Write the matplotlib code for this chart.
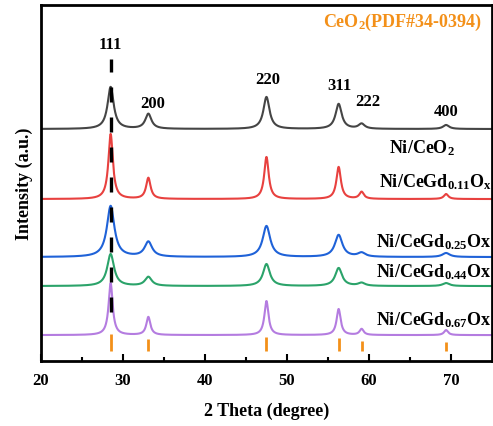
import numpy as np
import matplotlib.pyplot as plt

plt.rcParams["font.family"] = ["Liberation Serif", "DejaVu Serif"]
plt.rcParams["font.weight"] = "bold"
plt.rcParams["mathtext.fontset"] = "custom"
plt.rcParams["mathtext.rm"] = "Liberation Serif:bold"
plt.rcParams["mathtext.it"] = "Liberation Serif:bold"
plt.rcParams["mathtext.bf"] = "Liberation Serif:bold"

# peak positions (2 theta) and hkl of CeO2
peak_pos = [28.5, 33.1, 47.5, 56.3, 59.1, 69.4]
hkl = ["111", "200", "220", "311", "222", "400"]
hkl_xy = [(28.5, 317), (33.6, 258), (47.6, 282), (56.4, 276), (59.8, 260), (69.4, 250)]

# reference pattern bar heights
ref_heights = [17, 12, 14, 13, 10, 9]

samples = ["Ni/CeO$_2$", "Ni/CeGd$_{0.11}$O$_x$", "Ni/CeGd$_{0.25}$Ox",
           "Ni/CeGd$_{0.44}$Ox", "Ni/CeGd$_{0.67}$Ox"]
colors = ["#454545", "#e8413f", "#1f62d8", "#2ba36a", "#b47ce0"]
baselines = [232, 162, 104, 75, 26]
# peak heights above baseline for each sample (same order as peak_pos)
heights = [
    [42, 15, 32, 25, 5, 4],
    [65, 21, 42, 32, 7, 5],
    [51, 15, 31, 22, 4, 4],
    [32, 9, 22, 18, 3, 3],
    [52, 18, 34, 26, 6, 5],
]
# half widths of peaks (degree)
widths = [0.45, 0.33, 0.55, 0.5, 0.3]
label_xy = [(70.5, 214), (75, 180), (75, 120), (75, 90), (75, 42)]

x = np.linspace(20, 75, 2000)

fig = plt.figure(figsize=(4.93, 4.27), dpi=100)
ax = fig.add_axes([0.083, 0.152, 0.915, 0.834])

for name, c, b, hs, w, (lx, ly) in zip(samples, colors, baselines, heights, widths, label_xy):
    y = np.full_like(x, b, dtype=float)
    for p, h in zip(peak_pos, hs):
        y += h / (1 + ((x - p) / w) ** 2)
    ax.plot(x, y, color=c, lw=1.5)
    ax.text(lx, ly, name, ha="right", va="center", fontsize=13, fontweight="bold")

# reference bars
ax.vlines(peak_pos, 10, [10 + h for h in ref_heights], color="#f39019", lw=2)

# dashed guide at 111
ax.plot([28.5, 28.5], [49, 302], color="black", lw=2.4, ls=(0, (4.5, 4.5)), zorder=5)

for t, (hx, hy) in zip(hkl, hkl_xy):
    ax.text(hx, hy, t, ha="center", va="center", fontsize=12, fontweight="bold")

ax.text(73.8, 340, "CeO$_2$(PDF#34-0394)", ha="right", va="center",
        fontsize=13, color="#f39019", fontweight="bold")

ax.set_xlim(20, 75)
ax.set_ylim(0, 356)
ax.set_yticks([])
ax.set_xticks([20, 30, 40, 50, 60, 70])
ax.set_xticks(np.arange(25, 75, 5), minor=True)
ax.tick_params(axis="x", direction="in", length=5, width=1.5, labelsize=12, pad=8)
ax.tick_params(axis="x", which="minor", direction="in", length=3, width=1.5)
for s in ax.spines.values():
    s.set_linewidth(2)
ax.set_xlabel("2 Theta (degree)", fontsize=13, fontweight="bold", labelpad=10)
ax.set_ylabel("Intensity (a.u.)", fontsize=13, fontweight="bold", labelpad=6)

fig.savefig("out.png", dpi=100)
